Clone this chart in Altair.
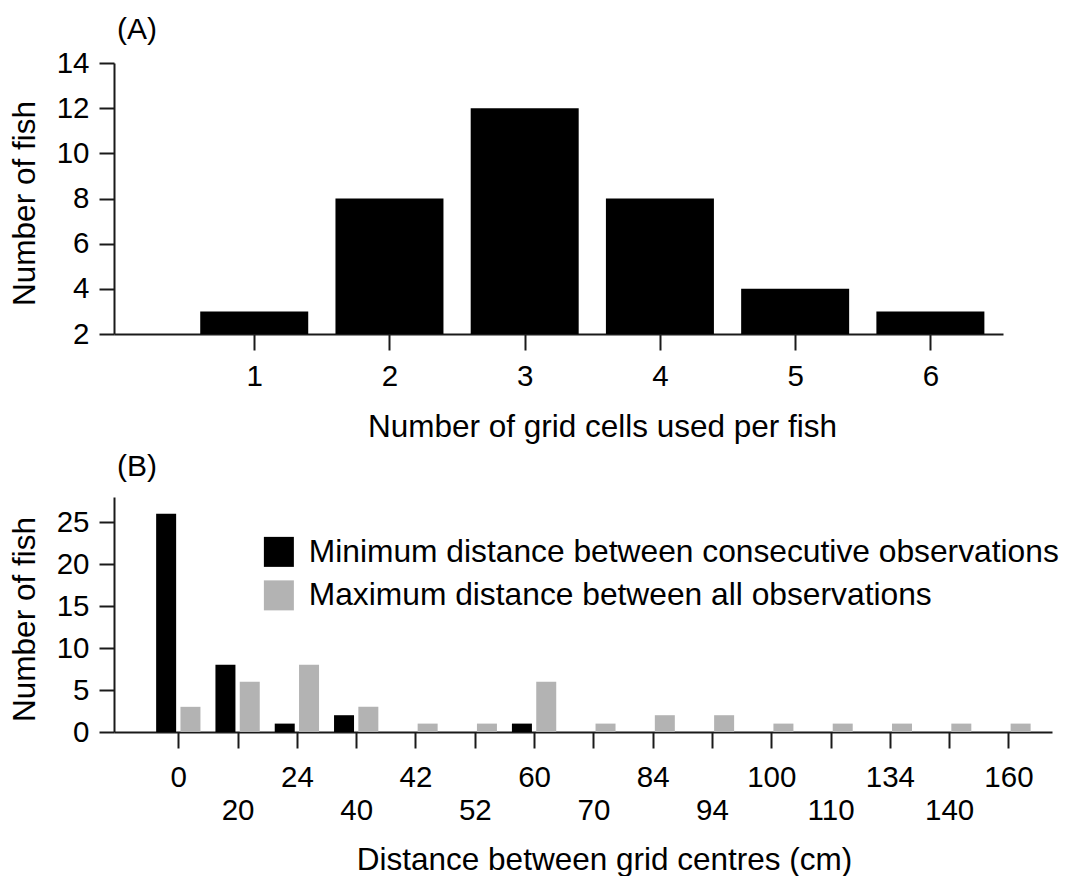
import altair as alt
import pandas as pd

# ---------------- data ----------------
cells = [1, 2, 3, 4, 5, 6]
fish_counts = [3, 8, 12, 8, 4, 3]

dist_labels = ["0", "20", "24", "40", "42", "52", "60", "70", "84", "94",
               "100", "110", "134", "140", "160"]
min_counts = [26, 8, 1, 2, 0, 0, 1, 0, 0, 0, 0, 0, 0, 0, 0]
max_counts = [3, 6, 8, 3, 1, 1, 6, 1, 2, 2, 1, 1, 1, 1, 1]
series_names = ["Minimum distance between consecutive observations",
                "Maximum distance between all observations"]
series_colors = ["black", "#b3b3b3"]
panel_labels = ["(A)", "(B)"]

FONT = "Liberation Sans"
TICK_FS = 29.5
TITLE_FS = 31.5

dfA = pd.DataFrame({"cells": cells, "fish": fish_counts})

rows = []
for i, lab in enumerate(dist_labels):
    rows.append({"idx": i + 1, "label": lab, "series": series_names[0],
                 "fish": min_counts[i], "side": -1})
    rows.append({"idx": i + 1, "label": lab, "series": series_names[1],
                 "fish": max_counts[i], "side": 1})
dfB = pd.DataFrame(rows)

axis_common = dict(
    domainColor="#1a1a1a", domainWidth=2, tickColor="#1a1a1a", tickWidth=2,
    grid=False, labelFont=FONT, labelFontSize=TICK_FS, labelColor="black",
    titleFont=FONT, titleFontSize=TITLE_FS, titleFontWeight="normal",
    titleColor="black", labelOverlap=False, labelFlush=False,
)


def panel_label(text, dy):
    return alt.Chart(pd.DataFrame({"t": [text]})).mark_text(
        font=FONT, fontSize=30, align="left", baseline="alphabetic", color="black"
    ).encode(text="t:N", x=alt.value(3), y=alt.value(dy))


# ---------------- panel A ----------------
barsA = alt.Chart(dfA).mark_bar(size=108, color="black").encode(
    x=alt.X("cells:Q",
            scale=alt.Scale(domain=[0, 6.5], nice=False, zero=False),
            axis=alt.Axis(values=cells, tickSize=16, labelPadding=12,
                          title="Number of grid cells used per fish",
                          titleX=488, titleY=102, titleBaseline="alphabetic",
                          titleAlign="center", **axis_common)),
    y=alt.Y("fish:Q",
            scale=alt.Scale(domain=[2, 14], nice=False, zero=False),
            axis=alt.Axis(values=[2, 4, 6, 8, 10, 12, 14], tickSize=15,
                          labelPadding=10, title="Number of fish",
                          titleAngle=270, titleX=-80, titleY=140,
                          titleBaseline="alphabetic", titleAlign="center",
                          **axis_common)),
    y2=alt.datum(2),
)
chartA = alt.layer(barsA, panel_label(panel_labels[0], -24)).properties(
    width=889, height=271)

# ---------------- panel B ----------------
lab_arr = "[" + ",".join("'" + l + "'" for l in dist_labels) + "]"
label_expr = ("datum.value % 2 == 1 ? [" + lab_arr + "[datum.value - 1]] : ['', "
              + lab_arr + "[datum.value - 1]]")

barsB = alt.Chart(dfB).transform_calculate(
    xpos="datum.idx + datum.side * 0.205"
).mark_bar(size=20).encode(
    x=alt.X("xpos:Q",
            scale=alt.Scale(domain=[0, 15.65], nice=False, zero=False),
            axis=alt.Axis(values=list(range(1, 16)), labelExpr=label_expr,
                          tickSize=16, labelPadding=15, labelLineHeight=33,
                          title="Distance between grid centres (cm)",
                          titleX=490, titleY=137, titleBaseline="alphabetic",
                          titleAlign="center", **axis_common)),
    y=alt.Y("fish:Q",
            scale=alt.Scale(domain=[0, 28], nice=False, zero=False),
            axis=alt.Axis(values=[0, 5, 10, 15, 20, 25], tickSize=15,
                          labelPadding=10, title="Number of fish",
                          titleAngle=270, titleX=-80, titleY=122,
                          titleBaseline="alphabetic", titleAlign="center",
                          **axis_common)),
    color=alt.Color("series:N",
                    scale=alt.Scale(domain=series_names, range=series_colors),
                    legend=alt.Legend(orient="none", legendX=149, legendY=39,
                                      title=None, symbolType="square",
                                      symbolSize=900, symbolStrokeWidth=0,
                                      labelFont=FONT, labelFontSize=31.75,
                                      labelColor="black", labelOffset=14,
                                      labelLimit=1000,
                                      rowPadding=10.5, padding=0)),
)
chartB = alt.layer(barsB, panel_label(panel_labels[1], -21)).properties(
    width=938, height=235)

chart = alt.vconcat(chartA, chartB, spacing=9).resolve_scale(
    color="independent"
).resolve_legend(color="independent").properties(
    padding={"left": 9, "top": 15, "right": 5, "bottom": 0},
    background="white",
).configure_view(stroke=None)

chart.save("out.html", embed_options={"renderer": "svg", "actions": False})
